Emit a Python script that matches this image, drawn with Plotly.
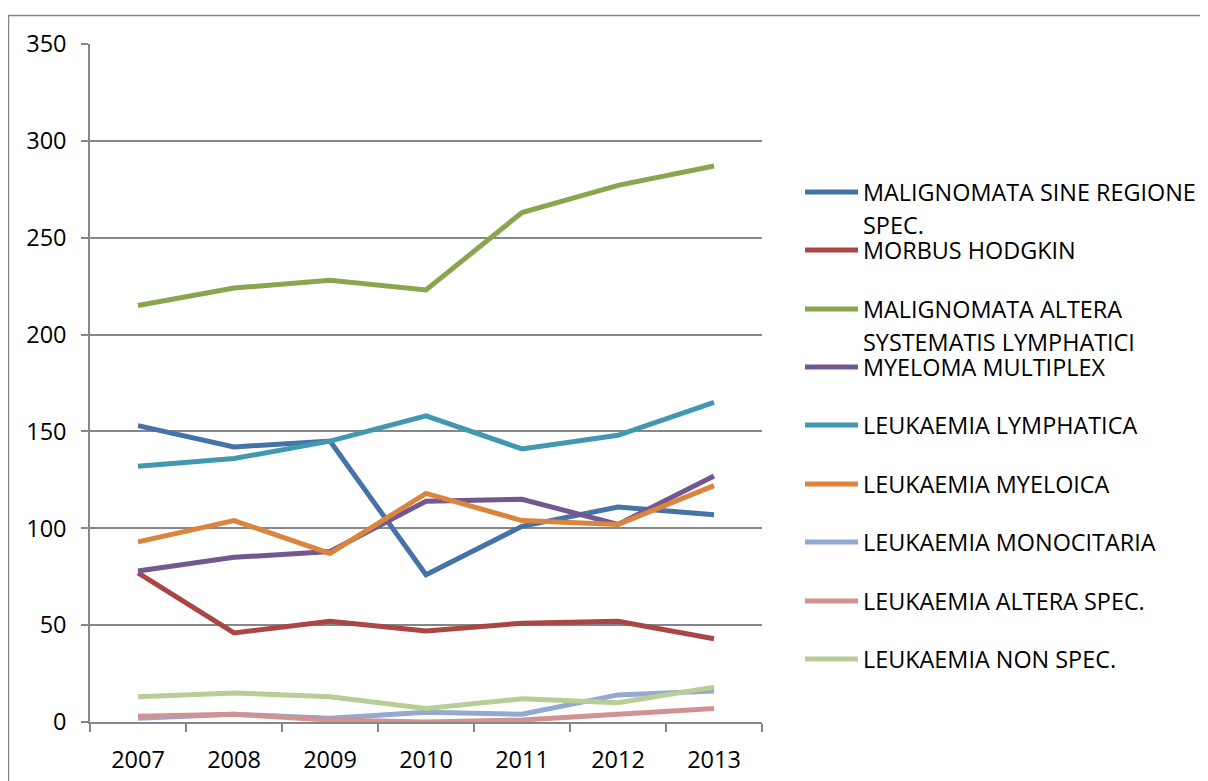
import plotly.graph_objects as go

years = ["2007", "2008", "2009", "2010", "2011", "2012", "2013"]
series_names = [
    "MALIGNOMATA SINE REGIONE SPEC.",
    "MORBUS HODGKIN",
    "MALIGNOMATA ALTERA SYSTEMATIS LYMPHATICI",
    "MYELOMA MULTIPLEX",
    "LEUKAEMIA LYMPHATICA",
    "LEUKAEMIA MYELOICA",
    "LEUKAEMIA MONOCITARIA",
    "LEUKAEMIA ALTERA SPEC.",
    "LEUKAEMIA NON SPEC.",
]
legend_lines = [
    ["MALIGNOMATA SINE REGIONE", "SPEC."],
    ["MORBUS HODGKIN"],
    ["MALIGNOMATA ALTERA", "SYSTEMATIS LYMPHATICI"],
    ["MYELOMA MULTIPLEX"],
    ["LEUKAEMIA LYMPHATICA"],
    ["LEUKAEMIA MYELOICA"],
    ["LEUKAEMIA MONOCITARIA"],
    ["LEUKAEMIA ALTERA SPEC."],
    ["LEUKAEMIA NON SPEC."],
]
malignomata_sine = [153, 142, 145, 76, 101, 111, 107]
morbus_hodgkin = [77, 46, 52, 47, 51, 52, 43]
malignomata_altera = [215, 224, 228, 223, 263, 277, 287]
myeloma = [78, 85, 88, 114, 115, 102, 127]
leuk_lymphatica = [132, 136, 145, 158, 141, 148, 165]
leuk_myeloica = [93, 104, 87, 118, 104, 102, 122]
leuk_monocitaria = [2, 4, 2, 5, 4, 14, 16]
leuk_altera = [3, 4, 1, 0, 1, 4, 7]
leuk_non = [13, 15, 13, 7, 12, 10, 18]
values = [malignomata_sine, morbus_hodgkin, malignomata_altera, myeloma,
          leuk_lymphatica, leuk_myeloica, leuk_monocitaria, leuk_altera, leuk_non]
colors = ["#4572A7", "#AA4643", "#89A54E", "#71588F", "#4198AF",
          "#DB843D", "#93A9CF", "#D19392", "#B9CD96"]

# page body has an 8px margin; work in reference pixels and subtract it
OFF = 8
W, H = 1208 - OFF, 781 - OFF
L, R, T, B = 90 - OFF, 762 - OFF, 44 - OFF, 722 - OFF
FONT = "Open Sans"
GRID = "#878787"

def px(X):
    return (X - OFF - L) / (R - L)

def py(Y):
    return (B - (Y - OFF)) / (B - T)

fig = go.Figure()
for name, v, c in zip(series_names, values, colors):
    fig.add_trace(go.Scatter(x=years, y=v, mode="lines", name=name,
                             line=dict(color=c, width=5), showlegend=False))

shapes = [dict(type="rect", xref="paper", yref="paper",
               x0=px(8.5), x1=px(1230), y0=py(15.5), y1=py(800),
               line=dict(color=GRID, width=1.5), fillcolor="rgba(0,0,0,0)", layer="below")]
annotations = []
leg_y = [192, 250, 309, 367, 425, 484, 542, 601, 659]
for lines, c, yy in zip(legend_lines, colors, leg_y):
    shapes.append(dict(type="line", xref="paper", yref="paper",
                       x0=px(805), x1=px(858), y0=py(yy), y1=py(yy),
                       line=dict(color=c, width=5)))
    for k, t in enumerate(lines):
        annotations.append(dict(xref="paper", yref="paper", x=px(861), y=py(yy + k * 33),
                                text=t, showarrow=False, xanchor="left", yanchor="middle",
                                font=dict(family=FONT, size=23.4, color="#000000")))

fig.update_layout(
    width=W, height=H,
    margin=dict(l=L, r=W - R, t=T, b=H - B, pad=0, autoexpand=False),
    paper_bgcolor="white", plot_bgcolor="white",
    font=dict(family=FONT, size=23, color="#000000"),
    shapes=shapes, annotations=annotations,
    xaxis=dict(type="category", range=[-0.5, 6.5], tickson="boundaries",
               ticks="outside", ticklen=8, tickwidth=1.5, tickcolor=GRID,
               showline=True, linecolor=GRID, linewidth=1.5, showgrid=False,
               automargin=False,
               ticklabelstandoff=16, tickfont=dict(family=FONT, size=23.5)),
    yaxis=dict(range=[0, 350], dtick=50, ticks="outside", ticklen=7, tickwidth=1.5,
               tickcolor=GRID, showline=True, linecolor=GRID, linewidth=1.5,
               showgrid=True, gridcolor=GRID, gridwidth=1.5, zeroline=False,
               automargin=False,
               ticklabelstandoff=10, tickfont=dict(family=FONT, size=23.5)),
)

fig.write_html("out.html")
